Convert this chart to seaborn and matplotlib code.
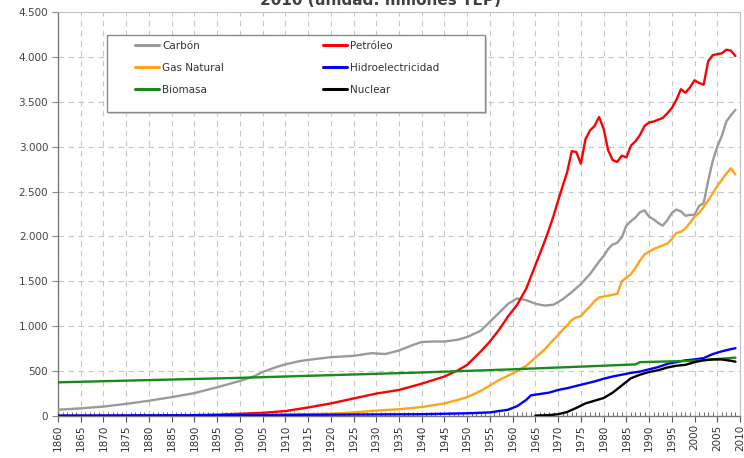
import matplotlib
matplotlib.use("Agg")
import matplotlib.pyplot as plt
from matplotlib.patches import Rectangle
from matplotlib.ticker import MultipleLocator, FuncFormatter
import seaborn as sns
import pandas as pd

# ---------------- data (millones TEP) ----------------
carbon_years = [1860, 1865, 1870, 1875, 1880, 1885, 1890, 1895, 1900, 1903, 1905, 1908, 1910, 1913,
                1915, 1920, 1925, 1929, 1932, 1935, 1938, 1940, 1943, 1945, 1948, 1950, 1953, 1955,
                1957, 1959, 1961, 1963, 1965, 1967, 1969, 1971, 1973, 1975, 1977, 1979, 1980, 1981,
                1982, 1983, 1984, 1985, 1986, 1987, 1988, 1989, 1990, 1991, 1992, 1993, 1994, 1995,
                1996, 1997, 1998, 1999, 2000, 2001, 2002, 2003, 2004, 2005, 2006, 2007, 2008, 2009]
carbon_vals = [70, 85, 105, 135, 170, 210, 255, 320, 390, 440, 490, 545, 575, 610,
               625, 655, 670, 700, 690, 730, 790, 825, 830, 830, 850, 880, 950, 1050,
               1150, 1250, 1310, 1290, 1250, 1230, 1240, 1300, 1380, 1470, 1580, 1720, 1780, 1860,
               1910, 1930, 1990, 2120, 2170, 2210, 2270, 2290, 2220, 2190, 2150, 2120, 2180, 2260,
               2300, 2280, 2230, 2240, 2240, 2340, 2370, 2620, 2840, 3000, 3120, 3280, 3350, 3410]

petroleo_years = [1860, 1870, 1880, 1890, 1895, 1900, 1905, 1910, 1915, 1920, 1925, 1930, 1935, 1940,
                  1945, 1948, 1950, 1953, 1955, 1957, 1959, 1961, 1963, 1965, 1967, 1968, 1969, 1970,
                  1971, 1972, 1973, 1974, 1975, 1976, 1977, 1978, 1979, 1980, 1981, 1982, 1983, 1984,
                  1985, 1986, 1987, 1988, 1989, 1990, 1991, 1992, 1993, 1994, 1995, 1996, 1997, 1998,
                  1999, 2000, 2001, 2002, 2003, 2004, 2005, 2006, 2007, 2008, 2009]
petroleo_vals = [0, 1, 4, 10, 15, 25, 35, 55, 95, 140, 195, 250, 290, 360,
                 440, 510, 570, 720, 830, 960, 1110, 1240, 1420, 1680, 1940, 2080, 2230, 2400,
                 2560, 2720, 2950, 2940, 2810, 3080, 3180, 3230, 3330, 3200, 2960, 2850, 2830, 2900,
                 2880, 3010, 3060, 3130, 3230, 3270, 3280, 3300, 3320, 3370, 3430, 3520, 3640, 3600,
                 3660, 3740, 3710, 3690, 3950, 4020, 4030, 4040, 4080, 4070, 4010]

gas_years = [1860, 1880, 1890, 1900, 1910, 1920, 1925, 1930, 1935, 1940, 1945, 1948, 1950, 1953,
             1955, 1957, 1959, 1961, 1963, 1965, 1967, 1969, 1970, 1971, 1972, 1973, 1974, 1975,
             1976, 1977, 1978, 1979, 1980, 1981, 1982, 1983, 1984, 1985, 1986, 1987, 1988, 1989,
             1990, 1991, 1992, 1993, 1994, 1995, 1996, 1997, 1998, 1999, 2000, 2001, 2002, 2003,
             2004, 2005, 2006, 2007, 2008, 2009]
gas_vals = [0, 2, 5, 8, 15, 25, 40, 60, 75, 100, 140, 180, 210, 280,
            340, 400, 450, 500, 560, 650, 740, 850, 900, 960, 1010, 1070, 1100, 1110,
            1170, 1220, 1280, 1320, 1330, 1340, 1350, 1360, 1500, 1540, 1580, 1650, 1730, 1800,
            1830, 1860, 1880, 1900, 1920, 1970, 2040, 2050, 2090, 2150, 2220, 2260, 2330, 2400,
            2480, 2560, 2630, 2700, 2760, 2690]

hidro_years = [1860, 1900, 1920, 1940, 1950, 1955, 1959, 1961, 1963, 1964, 1966, 1968, 1970, 1972,
               1974, 1976, 1978, 1980, 1982, 1984, 1986, 1988, 1990, 1992, 1994, 1996, 1998, 2000,
               2002, 2004, 2006, 2008, 2009]
hidro_vals = [5, 10, 15, 20, 30, 40, 70, 110, 180, 230, 245, 260, 290, 310,
              335, 360, 385, 415, 440, 460, 480, 495, 520, 545, 580, 600, 620, 630,
              645, 690, 720, 745, 755]

biomasa_years = [1860, 1880, 1900, 1920, 1940, 1960, 1980, 1987, 1988, 2000, 2005, 2009]
biomasa_vals = [375, 400, 425, 455, 485, 520, 560, 575, 600, 615, 635, 650]

nuclear_years = [1965, 1968, 1970, 1972, 1974, 1976, 1978, 1980, 1982, 1984, 1986, 1988, 1990,
                 1992, 1994, 1996, 1998, 2000, 2002, 2004, 2006, 2008, 2009]
nuclear_vals = [5, 10, 20, 45, 90, 140, 170, 200, 260, 340, 420, 460, 490,
                510, 540, 560, 570, 600, 620, 630, 630, 615, 605]

series_names = ["Carbón", "Petróleo", "Gas Natural", "Hidroelectricidad", "Biomasa", "Nuclear"]
title_text = "2010 (unidad: millones TEP)"

# ---------------- build table ----------------
parts = []
for name, yrs, vals in [("Carbón", carbon_years, carbon_vals),
                        ("Petróleo", petroleo_years, petroleo_vals),
                        ("Gas Natural", gas_years, gas_vals),
                        ("Hidroelectricidad", hidro_years, hidro_vals),
                        ("Biomasa", biomasa_years, biomasa_vals),
                        ("Nuclear", nuclear_years, nuclear_vals)]:
    parts.append(pd.DataFrame({"Año": yrs, "Valor": vals, "Fuente": name}))
df = pd.concat(parts, ignore_index=True)

palette = {"Carbón": "#9a9a9a", "Petróleo": "#ff0000", "Gas Natural": "#ffa31a",
           "Hidroelectricidad": "#0000ff", "Biomasa": "#1a8a1a", "Nuclear": "#000000"}

sns.set_theme(style="white")
plt.rcParams["font.family"] = ["DejaVu Sans"]

fig = plt.figure(figsize=(7.44, 4.58), dpi=100)
ax = fig.add_axes([58 / 744, 1 - 416 / 458, 682 / 744, 404 / 458])

sns.lineplot(data=df, x="Año", y="Valor", hue="Fuente", hue_order=series_names,
             palette=palette, linewidth=1.7, ax=ax, legend=False, zorder=3)

ax.set_xlim(1860, 2010)
ax.set_ylim(0, 4500)
ax.set_xlabel("")
ax.set_ylabel("")

ax.xaxis.set_major_locator(MultipleLocator(5))
ax.xaxis.set_minor_locator(MultipleLocator(1))
ax.yaxis.set_major_locator(MultipleLocator(500))
ax.yaxis.set_major_formatter(FuncFormatter(lambda v, p: f"{int(v):,}".replace(",", ".")))
ax.xaxis.set_major_formatter(FuncFormatter(lambda v, p: f"{int(v)}"))

ax.grid(True, which="major", color="#c8c8c8", linestyle=(0, (5, 4)), linewidth=0.8, zorder=0)
ax.set_axisbelow(True)

for side in ["left", "bottom"]:
    ax.spines[side].set_color("#7a7a7a")
    ax.spines[side].set_linewidth(1.0)
for side in ["top", "right"]:
    ax.spines[side].set_color("#c0c0c0")
    ax.spines[side].set_linewidth(0.8)

ax.tick_params(axis="x", which="major", direction="out", length=4, width=0.8, color="#555555",
               labelsize=7.5, labelcolor="#333333", labelrotation=90, pad=2, bottom=True)
ax.tick_params(axis="x", which="minor", direction="in", length=3, width=0.6, color="#555555", bottom=True)
ax.tick_params(axis="y", which="major", direction="out", length=4, width=0.8, color="#888888",
               labelsize=7.5, labelcolor="#444444", pad=3, left=True)

# legend frame and entries
ax.add_patch(Rectangle((0.0718 + 0.003, 0.7525 - 0.006), 0.554, 0.1906, transform=ax.transAxes,
                       facecolor="#d0d0d0", edgecolor="none", zorder=4))
ax.add_patch(Rectangle((0.0718, 0.7525), 0.554, 0.1906, transform=ax.transAxes,
                       facecolor="white", edgecolor="#8a8a8a", linewidth=1.0, zorder=5))
from matplotlib.lines import Line2D
order = ["Carbón", "Gas Natural", "Biomasa", "Petróleo", "Hidroelectricidad", "Nuclear"]
handles = [Line2D([], [], color=palette[n], linewidth=2.2) for n in order]
leg = ax.legend(handles, order, loc="upper left", bbox_to_anchor=((135 - 58) / 682, (416 - 41) / 404),
                ncol=2, frameon=False, fontsize=7.5, handlelength=2.3, handletextpad=0.3,
                labelspacing=1.15, columnspacing=9.5, borderpad=0, borderaxespad=0)
leg.set_zorder(6)
for t in leg.get_texts():
    t.set_color("#333333")

fig.text(380 / 744, 1 - 5 / 458, title_text, ha="center", va="baseline",
         fontsize=11, fontweight="bold", color="#404040")

fig.savefig("out.png", dpi=100)
